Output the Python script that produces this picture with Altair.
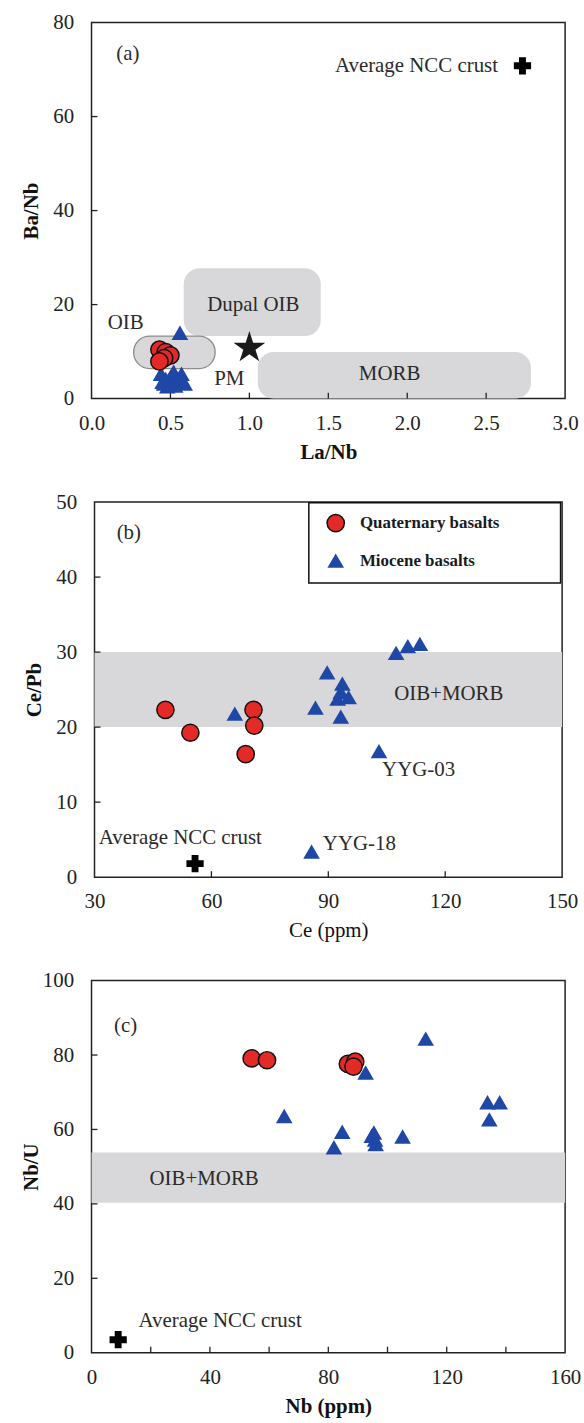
import altair as alt
import pandas as pd

FONT = "Liberation Serif"
RED = "#e42a26"
BLUE = "#1f47a5"
SHADE = "#d8d8da"
INK = "#222222"
FS = 21

# ---------------- (a) Ba/Nb vs La/Nb ----------------
a_quat_lanb = [0.43, 0.47, 0.50, 0.46, 0.43]
a_quat_banb = [10.4, 9.9, 9.2, 8.6, 7.9]
a_mio_lanb = [0.56, 0.44, 0.52, 0.57, 0.50, 0.47, 0.55, 0.59, 0.46, 0.51, 0.48, 0.53, 0.45]
a_mio_banb = [14.0, 5.3, 5.7, 5.3, 4.6, 4.2, 4.0, 3.2, 3.2, 3.0, 2.6, 2.8, 3.6]
a_pm = (1.0, 10.8)
a_ncc = (2.73, 70.8)
# reference fields: name, La/Nb from-to, Ba/Nb from-to
a_fields = ["Dupal OIB", "OIB", "MORB"]
a_field_x1 = [0.584, 0.267, 1.053]
a_field_x2 = [1.452, 0.783, 2.784]
a_field_y1 = [13.3, 6.4, 0.0]
a_field_y2 = [27.75, 13.3, 9.9]

# ---------------- (b) Ce/Pb vs Ce ----------------
b_quat_ce = [48.2, 54.6, 68.8, 70.8, 71.0]
b_quat_cepb = [22.3, 19.25, 16.4, 22.3, 20.2]
b_mio_ce = [66.0, 86.7, 89.7, 93.6, 93.2, 95.2, 92.4, 93.2, 103.0, 85.7, 107.4, 110.4, 113.5]
b_mio_cepb = [21.8, 22.6, 27.3, 25.8, 24.7, 24.0, 23.8, 21.4, 16.8, 3.4, 29.9, 30.8, 31.1]
b_ncc = (55.8, 1.8)
b_band = (20, 30)

# ---------------- (c) Nb/U vs Nb ----------------
c_quat_nb = [54.1, 59.3, 86.6, 89.1, 88.5]
c_quat_nbu = [79.1, 78.6, 77.6, 78.2, 76.9]
c_mio_nb = [65.1, 81.9, 84.7, 92.6, 94.7, 95.4, 96.0, 95.8, 105.1, 112.9, 133.8, 134.4, 137.9]
c_mio_nbu = [63.6, 55.2, 59.4, 75.3, 58.3, 59.2, 56.1, 57.3, 58.1, 84.4, 67.3, 62.7, 67.3]
c_ncc = (9.0, 3.5)
c_band = (40.3, 53.8)

STAR = ("M0,-1L0.2245,-0.309L0.951,-0.309L0.3633,0.118L0.588,0.809L0,0.382"
        "L-0.588,0.809L-0.3633,0.118L-0.951,-0.309L-0.2245,-0.309Z")


def encodings(x_dom, y_dom, w, h, x_labels, y_labels, x_title, y_title, x_fmt, x_bold):
    X = alt.X(
        "x:Q",
        scale=alt.Scale(domain=x_dom, nice=False, zero=False),
        axis=alt.Axis(
            values=x_labels, format=x_fmt, title=x_title, grid=False, ticks=False,
            domain=False, labelFont=FONT, labelFontSize=FS, labelColor=INK,
            labelPadding=14, labelFlush=False, labelOverlap=False,
            titleFont=FONT, titleFontSize=FS,
            titleFontWeight="bold" if x_bold else "normal", titleColor="#111",
            titleX=w / 2, titleY=60, titleBaseline="alphabetic", titleAlign="center",
        ),
    )
    Y = alt.Y(
        "y:Q",
        scale=alt.Scale(domain=y_dom, nice=False, zero=False),
        axis=alt.Axis(
            values=y_labels, format="d", title=y_title, grid=False, ticks=False,
            domain=False, labelFont=FONT, labelFontSize=FS, labelColor=INK,
            labelPadding=18, labelFlush=False, labelOverlap=False,
            titleFont=FONT, titleFontSize=FS, titleFontWeight="bold", titleColor="#111",
            titleX=-54, titleY=h / 2, titleAngle=-90, titleBaseline="alphabetic",
            titleAlign="center",
        ),
    )
    return X, Y


def inner_ticks(xt, yt, X, Y, h):
    tx = alt.Chart(pd.DataFrame({"x": xt})).mark_rule(color=INK, strokeWidth=1.3).encode(
        x=X, y=alt.value(h), y2=alt.value(h - 6))
    ty = alt.Chart(pd.DataFrame({"y": yt})).mark_rule(color=INK, strokeWidth=1.3).encode(
        y=Y, x=alt.value(0), x2=alt.value(6))
    return [tx, ty]


def circles(xs, ys, X, Y):
    return alt.Chart(pd.DataFrame({"x": xs, "y": ys})).mark_point(
        shape="circle", filled=True, size=300, color=RED, stroke="#111",
        strokeWidth=1.5, opacity=1).encode(x=X, y=Y)


def triangles(xs, ys, X, Y):
    return alt.Chart(pd.DataFrame({"x": xs, "y": ys})).mark_point(
        shape="triangle-up", filled=True, size=280, color=BLUE, opacity=1).encode(x=X, y=Y)


def cross(pt, X, Y):
    return alt.Chart(pd.DataFrame({"x": [pt[0]], "y": [pt[1]]})).mark_point(
        shape="cross", filled=True, size=300, color="#000", opacity=1).encode(x=X, y=Y)


def texts(xs, ys, labels, X, Y, align="left", size=FS, weight="normal", color="#2a2a2a"):
    return alt.Chart(pd.DataFrame({"x": xs, "y": ys, "t": labels})).mark_text(
        align=align, baseline="middle", font=FONT, fontSize=size, fontWeight=weight,
        color=color).encode(x=X, y=Y, text="t:N")


# ---- panel (a)
WA, HA = 476, 378
Xa, Ya = encodings([0, 3], [0, 80], WA, HA, [0, 0.5, 1, 1.5, 2, 2.5, 3],
                   [0, 20, 40, 60, 80], "La/Nb", "Ba/Nb", ".1f", True)
fields_a = pd.DataFrame({"name": a_fields, "x": a_field_x1, "x2": a_field_x2,
                         "y": a_field_y1, "y2": a_field_y2})
plain_fields = alt.Chart(fields_a[fields_a["name"] != "OIB"]).mark_rect(
    color=SHADE, cornerRadius=16).encode(x=Xa, x2="x2:Q", y=Ya, y2="y2:Q")
oib_field = alt.Chart(fields_a[fields_a["name"] == "OIB"]).mark_rect(
    fill=SHADE, stroke="#8c8c8c", strokeWidth=1.3, cornerRadius=16).encode(
    x=Xa, x2="x2:Q", y=Ya, y2="y2:Q")
star = alt.Chart(pd.DataFrame({"x": [a_pm[0]], "y": [a_pm[1]]})).mark_point(
    shape=STAR, filled=True, size=1130, color="#1a1a1a", opacity=1).encode(x=Xa, y=Ya)
panel_a = alt.layer(
    plain_fields, oib_field,
    *inner_ticks([0.5, 1, 1.5, 2, 2.5], [20, 40, 60], Xa, Ya, HA),
    texts([1.025, 1.888], [20.0, 5.2], ["Dupal OIB", "MORB"], Xa, Ya, align="center"),
    texts([0.216, 0.873, 0.23], [16.1, 4.1, 73.4], ["OIB", "PM", "(a)"], Xa, Ya, align="center"),
    texts([2.575], [70.8], ["Average NCC crust"], Xa, Ya, align="right"),
    triangles(a_mio_lanb, a_mio_banb, Xa, Ya),
    circles(a_quat_lanb, a_quat_banb, Xa, Ya),
    star, cross(a_ncc, Xa, Ya),
).properties(width=WA, height=HA)

# ---- panel (b)
WB, HB = 470, 377
Xb, Yb = encodings([30, 150], [0, 50], WB, HB, [30, 60, 90, 120, 150],
                   [0, 10, 20, 30, 40, 50], "Ce (ppm)", "Ce/Pb", "d", False)
band_b = alt.Chart(pd.DataFrame({"x": [30], "x2": [150], "y": [b_band[0]], "y2": [b_band[1]]})
                   ).mark_rect(color=SHADE).encode(x=Xb, x2="x2:Q", y=Yb, y2="y2:Q")
legend_box = alt.Chart(pd.DataFrame({"x": [85], "x2": [149.6], "y": [39.2], "y2": [49.9]})
                       ).mark_rect(fill="white", stroke="#111", strokeWidth=1.5).encode(
    x=Xb, x2="x2:Q", y=Yb, y2="y2:Q")
panel_b = alt.layer(
    band_b,
    *inner_ticks([60, 90, 120], [10, 20, 30, 40], Xb, Yb, HB),
    legend_box,
    circles([91.9], [47.2], Xb, Yb),
    triangles([91.9], [42.2], Xb, Yb),
    texts([98.1, 98.1], [47.2, 42.2], ["Quaternary basalts", "Miocene basalts"], Xb, Yb,
          size=17, weight="bold", color="#1a1a1a"),
    texts([38.8], [45.9], ["(b)"], Xb, Yb, align="center"),
    texts([106.9, 103.8, 88.6, 31.1], [24.4, 14.3, 4.4, 5.2],
          ["OIB+MORB", "YYG-03", "YYG-18", "Average NCC crust"], Xb, Yb),
    triangles(b_mio_ce, b_mio_cepb, Xb, Yb),
    circles(b_quat_ce, b_quat_cepb, Xb, Yb),
    cross(b_ncc, Xb, Yb),
).properties(width=WB, height=HB)

# ---- panel (c)
WC, HC = 476, 374
Xc, Yc = encodings([0, 160], [0, 100], WC, HC, [0, 40, 80, 120, 160],
                   [0, 20, 40, 60, 80, 100], "Nb (ppm)", "Nb/U", "d", True)
band_c = alt.Chart(pd.DataFrame({"x": [0], "x2": [160], "y": [c_band[0]], "y2": [c_band[1]]})
                   ).mark_rect(color=SHADE).encode(x=Xc, x2="x2:Q", y=Yc, y2="y2:Q")
panel_c = alt.layer(
    band_c,
    *inner_ticks([20, 40, 60, 80, 100, 120, 140], [20, 40, 60, 80], Xc, Yc, HC),
    texts([11.5], [87.9], ["(c)"], Xc, Yc, align="center"),
    texts([19.6, 15.9], [46.8, 8.4], ["OIB+MORB", "Average NCC crust"], Xc, Yc),
    triangles(c_mio_nb, c_mio_nbu, Xc, Yc),
    circles(c_quat_nb, c_quat_nbu, Xc, Yc),
    cross(c_ncc, Xc, Yc),
).properties(width=WC, height=HC)

chart = alt.vconcat(panel_a, panel_b, panel_c, spacing=104, bounds="flush", center=True
                    ).properties(
    padding={"left": 20, "top": 7, "right": 2, "bottom": 2},
    background="white",
).configure_view(stroke=INK, strokeWidth=1.5)

chart.save("out.html", embed_options={"renderer": "svg", "actions": False})
